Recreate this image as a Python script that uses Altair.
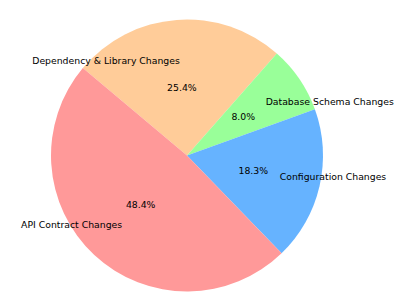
import altair as alt
import pandas as pd
import math

# Categories listed clockwise (as drawn) starting from the upper-left boundary
categories = ["Dependency & Library Changes", "Database Schema Changes",
              "Configuration Changes", "API Contract Changes"]
shares = [25.4, 8.0, 18.3, 48.4]
colors = ["#ffcc99", "#99ff99", "#66b3ff", "#ff9999"]

df = pd.DataFrame({"cat": categories, "share": shares})

start = math.radians(90 - 140)  # matplotlib startangle=140
theta_scale = alt.Scale(range=[start, start + 2 * math.pi])
CX, CY, R = 187, 155.5, 136
FONT = "DejaVu Sans"
FS = 9.3

base = alt.Chart(df).transform_window(
    idx="row_number()"
).transform_joinaggregate(
    total="sum(share)"
).transform_window(
    cum="sum(share)", sort=[alt.SortField("idx")], frame=[None, 0]
).transform_calculate(
    mid=f"{start} + 2*PI*(datum.cum - datum.share/2)/datum.total",
    pct="format(datum.share, '.1f') + '%'"
).encode(
    theta=alt.Theta("share:Q", stack=True, scale=theta_scale),
    order=alt.Order("idx:Q"),
    x=alt.value(CX),
    y=alt.value(CY),
)

arcs = base.mark_arc(outerRadius=R, stroke=None).encode(
    color=alt.Color("cat:N", scale=alt.Scale(domain=categories, range=colors), legend=None)
)

pct = base.mark_text(radius=R * 0.5, font=FONT, fontSize=FS, color="black",
                     align="center", baseline="middle").encode(text="pct:N")

right_lbl = base.mark_text(radius=R * 0.7, font=FONT, fontSize=FS, color="black",
                           align="left", baseline="middle").encode(
    text=alt.condition("sin(datum.mid) >= 0", "cat:N", alt.value(""))
)
left_lbl = base.mark_text(radius=R * 0.7, font=FONT, fontSize=FS, color="black",
                          align="right", baseline="middle").encode(
    text=alt.condition("sin(datum.mid) < 0", "cat:N", alt.value(""))
)

chart = alt.layer(arcs, pct, right_lbl, left_lbl).properties(
    width=399, height=298, padding=0, autosize=alt.AutoSizeParams(type="none"),
    background="white"
).configure_view(stroke=None)

chart.save("out.html", embed_options={"renderer": "svg", "actions": False})
